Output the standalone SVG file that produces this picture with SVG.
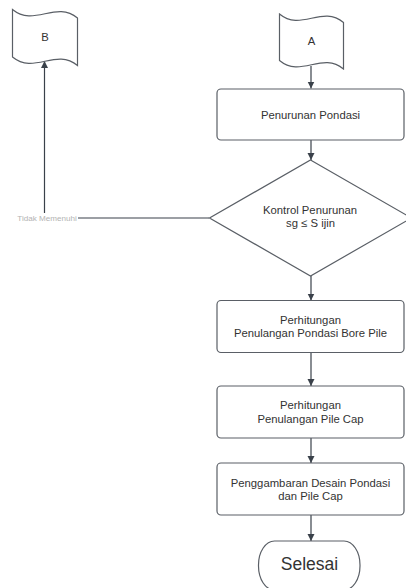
<svg xmlns="http://www.w3.org/2000/svg" width="406" height="588" viewBox="0 0 406 588">
<defs>
<style>
.shape{fill:#ffffff;stroke:#5a5f66;stroke-width:1.2}
.line{fill:none;stroke:#3a414a;stroke-width:1.2}
.t{font-family:"Liberation Sans",Arial,sans-serif;font-size:11.3px;fill:#333333;text-anchor:middle}
.big{font-size:17.5px}
.lbl{font-family:"Liberation Sans",Arial,sans-serif;font-size:8.1px;fill:#b3b3b3;text-anchor:middle}
</style>
<marker id="arr" viewBox="0 0 10 10" refX="10" refY="5" markerWidth="7" markerHeight="8" markerUnits="userSpaceOnUse" orient="auto">
<path d="M0,0 L10,5 L0,10 Z" fill="#3a414a"/>
</marker>
</defs>
<rect width="406" height="588" fill="#ffffff"/>
<g id="connectors">
<path class="line" d="M311,66 L311,88.5" marker-end="url(#arr)"/>
<path class="line" d="M311,140 L311,160" marker-end="url(#arr)"/>
<path class="line" d="M311,276 L311,300.5" marker-end="url(#arr)"/>
<path class="line" d="M311,352.5 L311,386" marker-end="url(#arr)"/>
<path class="line" d="M311,438 L311,463" marker-end="url(#arr)"/>
<path class="line" d="M311,515 L311,541" marker-end="url(#arr)"/>
<path class="line" d="M209,218 L44.5,218 L44.5,61" marker-end="url(#arr)"/>
<rect x="16" y="213" width="62" height="10" fill="#ffffff"/>
<text class="lbl" x="47" y="221">Tidak Memenuhi</text>
</g>
<g id="nodeB">
<path class="shape" d="M12.5,9.5 C34.2,27.3 55.8,0.2 77.5,18 L77.5,65.5 C55.8,47.7 34.2,74.8 12.5,57 Z"/>
<text class="t" x="45" y="40.5">B</text>
</g>
<g id="nodeA">
<path class="shape" d="M279.5,14 C300.8,31.8 322.2,4.7 343.5,22.5 L343.5,69 C322.2,51.2 300.8,78.3 279.5,60.5 Z"/>
<text class="t" x="311.5" y="44.5">A</text>
</g>
<g id="nodePenurunan">
<rect class="shape" x="217" y="89" width="187" height="51" rx="4"/>
<text class="t" x="310.5" y="118.5">Penurunan Pondasi</text>
</g>
<g id="nodeKontrol">
<path class="shape" d="M310.5,160 L411.5,218 L310.5,276 L209.5,218 Z"/>
<text class="t" x="310" y="213.5">Kontrol Penurunan</text>
<text class="t" x="310.5" y="227">sg ≤ S ijin</text>
</g>
<g id="nodeBorePile">
<rect class="shape" x="217" y="300.5" width="187" height="52" rx="4"/>
<text class="t" x="310.5" y="323.5">Perhitungan</text>
<text class="t" x="310.5" y="337">Penulangan Pondasi Bore Pile</text>
</g>
<g id="nodePileCap">
<rect class="shape" x="217" y="386" width="187" height="52" rx="4"/>
<text class="t" x="310.5" y="409">Perhitungan</text>
<text class="t" x="310.5" y="422.5">Penulangan Pile Cap</text>
</g>
<g id="nodeDesain">
<rect class="shape" x="217" y="463" width="187" height="52" rx="4"/>
<text class="t" x="310.5" y="486.5">Penggambaran Desain Pondasi</text>
<text class="t" x="310.5" y="499.5">dan Pile Cap</text>
</g>
<g id="nodeSelesai">
<rect class="shape" x="258.5" y="541" width="101.5" height="49" rx="16" ry="24"/>
<text class="t big" x="309.5" y="569.5">Selesai</text>
</g>
</svg>
